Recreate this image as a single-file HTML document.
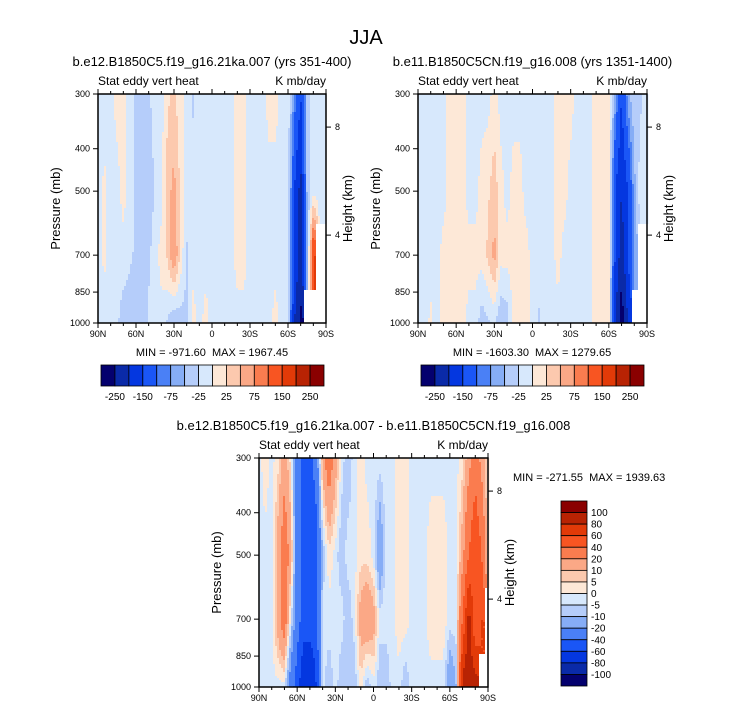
<!DOCTYPE html>
<html><head><meta charset="utf-8">
<style>
body{margin:0;background:#fff;}
svg{display:block;font-family:"Liberation Sans",Arial,sans-serif;}
</style></head>
<body>
<svg id="fig" width="733" height="712" viewBox="0 0 733 712">
<text x="366" y="44" font-size="20" text-anchor="middle">JJA</text>
</svg>
<script>
// ---- data ----
const latLabels = ["90N","60N","30N","0","30S","60S","90S"];
const presTicks = [300,400,500,700,850,1000];
const heightTicks = [8,4];
const heightTickP = [357,630];
const presNodes = [300,500,700,1000];
const levels12 = [-250,-200,-150,-100,-75,-50,-25,0,25,50,75,100,150,200,250];
const levels3 = [-100,-80,-60,-40,-20,-10,-5,0,5,10,20,40,60,80,100];
const barLabels12 = ["-250","-150","-75","-25","25","75","150","250"];
const barLabels3 = ["100","80","60","40","20","10","5","0","-5","-10","-20","-40","-60","-80","-100"];
const colors = ["#04006e","#0a2aa8","#0437e0","#1a56f6","#4a80f6","#86adf6","#b5cdfa","#d7e8fc","#fde8d7","#fcc9ae","#fba886","#fa7c4f","#f85522","#e23a08","#b82303","#8a0000"];
// rows: values at 300, 500, 700, 1000 mb; columns 90N..90S every 5 deg
const field1 = [
[-10,-10,-10,-10],[-10,5,5,-10],[-10,-10,-10,-10],[10,-10,-10,-20],[10,10,-10,-40],
[-10,-10,-20,-40],[-30,-30,-30,-50],[-30,-40,-40,-40],[-30,-50,-30,-20],[-10,-20,-10,-20],
[-10,-10,10,-10],[20,40,30,-30],[30,60,80,-50],[10,20,20,-40],[-10,-10,-30,-30],
[-30,-10,-10,10],[-10,-10,-10,-10],[-10,-10,-10,10],[-10,-10,-10,-10],[-10,-10,-10,-10],
[-10,-10,-10,-10],[-10,-10,-10,-10],[10,10,10,-10],[10,10,10,-10],[-10,-10,-10,-10],
[-10,-10,-10,-10],[-10,-10,-10,-10],[10,-10,-10,-10],[10,-10,-10,10],[-10,-10,-10,-10],
[-10,-10,-10,-20],[-80,-150,-150,-200],[-150,-220,-230,-260],[-50,-50,-60,null],[-10,-10,150,null],
[-10,-10,null,null],[-10,-10,null,null]];
const field2 = [
[-10,-10,-10,-10],[-10,-10,-10,-10],[-10,-10,-10,5],[-10,-10,-10,-10],[-10,-10,10,10],
[10,10,10,10],[10,10,10,10],[10,10,10,10],[-10,-10,10,-10],[-10,-10,10,-10],
[-10,10,10,-40],[-10,20,30,-30],[10,40,60,-20],[-10,10,10,-50],[-10,-10,10,-40],
[-10,10,10,10],[-10,10,10,10],[-10,-10,10,10],[-10,-10,-10,-10],[-10,-10,-10,-30],
[-10,-10,-10,-10],[-10,-10,-10,-10],[10,10,10,-10],[10,10,-10,-10],[10,-10,-10,-10],
[-10,-10,-10,-10],[-10,-10,-10,-10],[-10,-10,-10,-10],[10,10,10,10],[10,10,10,10],
[10,10,10,10],[-60,-150,-150,-200],[-150,-200,-230,-280],[-60,-150,-150,-200],[-30,-60,-60,null],
[-30,-10,null,null],[-10,-10,null,null]];
const field3 = [
[-2,-2,-2,-2],[3,-2,-2,-2],[-2,-2,-2,-2],[3,15,15,-2],[15,30,30,-2],
[3,15,-2,-30],[-30,-30,-30,-50],[-50,-50,-50,-80],[-50,-50,-50,-80],[-30,-50,-50,-60],
[15,-10,-2,-2],[30,3,-2,-10],[15,-2,-2,-2],[-2,-10,-2,-10],[-10,-2,-10,-10],
[-2,-2,-2,-10],[3,3,15,3],[-2,3,20,-10],[-2,-2,15,-2],[-2,-20,-2,-10],
[-2,-2,-2,-10],[-2,-2,-2,-2],[3,3,3,-2],[3,3,3,-10],[-2,-2,-2,-2],
[-2,-2,-2,-2],[-2,-2,-2,-2],[-2,3,3,-2],[-2,3,3,-2],[-2,3,3,-2],
[-2,-2,-2,-20],[-2,-2,-2,-10],[3,15,40,90],[15,40,90,95],[30,60,40,90],
[15,40,60,null],[3,3,null,null]];

const NS='http://www.w3.org/2000/svg';
const svg=document.getElementById('fig');
function el(tag,attrs,parent,txt){const e=document.createElementNS(NS,tag);for(const k in attrs)e.setAttribute(k,attrs[k]);if(txt!==undefined)e.textContent=txt;(parent||svg).appendChild(e);return e;}
function colorIdx(v,lev){let i=0;while(i<lev.length&&v>=lev[i])i++;return i;}

function panel(cfg){
  const g=el('g',{});
  
  
  const {x0,y0,w,h}=cfg;
  const lp0=Math.log(300),lp1=Math.log(1000);
  const yOf=p=>y0+(Math.log(p)-lp0)/(lp1-lp0)*h;
  const nodeY=presNodes.map(yOf);
  const F=cfg.field;
  function val(ci,py){
    let j=0;while(j<nodeY.length-2&&py>nodeY[j+1])j++;
    let t=(py-nodeY[j])/(nodeY[j+1]-nodeY[j]);t=Math.max(0,Math.min(1,t));
    let i=Math.floor(ci);if(i>35)i=35;let s=ci-i;
    const pts=[[i,j,(1-s)*(1-t)],[i+1,j,s*(1-t)],[i,j+1,(1-s)*t],[i+1,j+1,s*t]];
    const ni=s<0.5?i:i+1,nj=t<0.5?j:j+1;
    if(F[ni][nj]===null)return null;
    let sum=0,wt=0;for(const [a,b,ww] of pts){const v=F[a][b];if(v!==null){sum+=v*ww;wt+=ww;}}
    return wt>0?sum/wt:null;
  }
  const step=2;
  const cells=el('g',{},g);
  
  
  for(let px=0;px<w;px+=step){
    const ci=(px+step/2)/w*36;
    let runStart=0,runCol=null;
    const flush=(end)=>{if(runCol!==null){const r=el('rect',{x:x0+px,y:y0+runStart,width:step+0.4,height:end-runStart+0.4,fill:runCol},cells);}};
    for(let py=0;py<h;py+=step){
      const v=val(ci,y0+py+step/2);
      const c=v===null?'#ffffff':colors[colorIdx(v,cfg.levels)];
      if(c!==runCol){flush(py);runStart=py;runCol=c;}
    }
    flush(h);
  }
  el('rect',{x:x0,y:y0,width:w,height:h,fill:'none',stroke:'#000','stroke-width':1.5},g);
  for(let d=0;d<=180;d+=10){
    const x=x0+d/180*w, major=d%30===0, L=major?5:3;
    el('line',{x1:x,x2:x,y1:y0+h,y2:y0+h+L,stroke:'#000'},g);
    el('line',{x1:x,x2:x,y1:y0,y2:y0-L,stroke:'#000'},g);
    if(major){const t=el('text',{x:x,y:y0+h+14,'font-size':9,'text-anchor':'middle'},g,latLabels[d/30]);}
  }
  presTicks.forEach(p=>{const y=yOf(p);el('line',{x1:x0-5,x2:x0,y1:y,y2:y,stroke:'#000'},g);
    const t=el('text',{x:x0-8,y:y+3,'font-size':9,'text-anchor':'end'},g,String(p));});
  heightTicks.forEach((k,i)=>{const y=yOf(heightTickP[i]);el('line',{x1:x0+w,x2:x0+w+5,y1:y,y2:y,stroke:'#000'},g);
    const t=el('text',{x:x0+w+9,y:y+3,'font-size':9},g,String(k));});
  const px0=x0-38, hx=x0+w+26;
  let t=el('text',{x:px0,y:y0+h/2,'font-size':13,'text-anchor':'middle',transform:`rotate(-90 ${px0} ${y0+h/2})`},g,'Pressure (mb)');
  
  t=el('text',{x:hx,y:y0+h/2,'font-size':13,'text-anchor':'middle',transform:`rotate(-90 ${hx} ${y0+h/2})`},g,'Height (km)');
  
  t=el('text',{x:x0+w/2,y:y0-28,'font-size':13,'text-anchor':'middle'},g,cfg.title);
  
  t=el('text',{x:x0,y:y0-9,'font-size':12},g,'Stat eddy vert heat');
  
  t=el('text',{x:x0+w,y:y0-9,'font-size':12,'text-anchor':'end'},g,'K mb/day');
  
  t=el('text',{x:cfg.mmx,y:cfg.mmy,'font-size':11,'text-anchor':cfg.mma},g,cfg.minmax);
  
}

function hbar(x0,y0,w,h){
  const g=el('g',{});
  
  
  const bw=w/colors.length;
  colors.forEach((c,i)=>{const r=el('rect',{x:x0+i*bw,y:y0,width:bw,height:h,fill:c,stroke:'#000','stroke-width':0.8},g);});
  barLabels12.forEach((s,k)=>{const x=x0+(2*k+1)*bw;const t=el('text',{x:x,y:y0+h+14,'font-size':10,'text-anchor':'middle'},g,s);});
}
function vbar(x0,y0,w,h){
  const g=el('g',{});
  
  
  const bh=h/colors.length;
  colors.slice().reverse().forEach((c,i)=>{const r=el('rect',{x:x0,y:y0+i*bh,width:w,height:bh,fill:c,stroke:'#000','stroke-width':0.8},g);});
  barLabels3.forEach((s,k)=>{const y=y0+(k+1)*bh;const t=el('text',{x:x0+w+4,y:y+3.5,'font-size':10},g,s);});
}
const SP='\u00a0\u00a0';
panel({name:'panel-left',x0:98,y0:94,w:228,h:229,field:field1,levels:levels12,
  title:'b.e12.B1850C5.f19_g16.21ka.007 (yrs 351-400)',minmax:'MIN = -971.60'+SP+'MAX = 1967.45',mmx:212,mmy:356,mma:'middle'});
panel({name:'panel-right',x0:418,y0:94,w:229,h:229,field:field2,levels:levels12,
  title:'b.e11.B1850C5CN.f19_g16.008 (yrs 1351-1400)',minmax:'MIN = -1603.30'+SP+'MAX = 1279.65',mmx:532,mmy:356,mma:'middle'});
panel({name:'panel-diff',x0:259,y0:458,w:229,h:229,field:field3,levels:levels3,
  title:'b.e12.B1850C5.f19_g16.21ka.007 - b.e11.B1850C5CN.f19_g16.008',minmax:'MIN = -271.55'+SP+'MAX = 1939.63',mmx:513,mmy:481,mma:'start'});
hbar(101,365,223,21);
hbar(421,365,223,21);
vbar(561,501,26,185);
</script>
</body></html>
